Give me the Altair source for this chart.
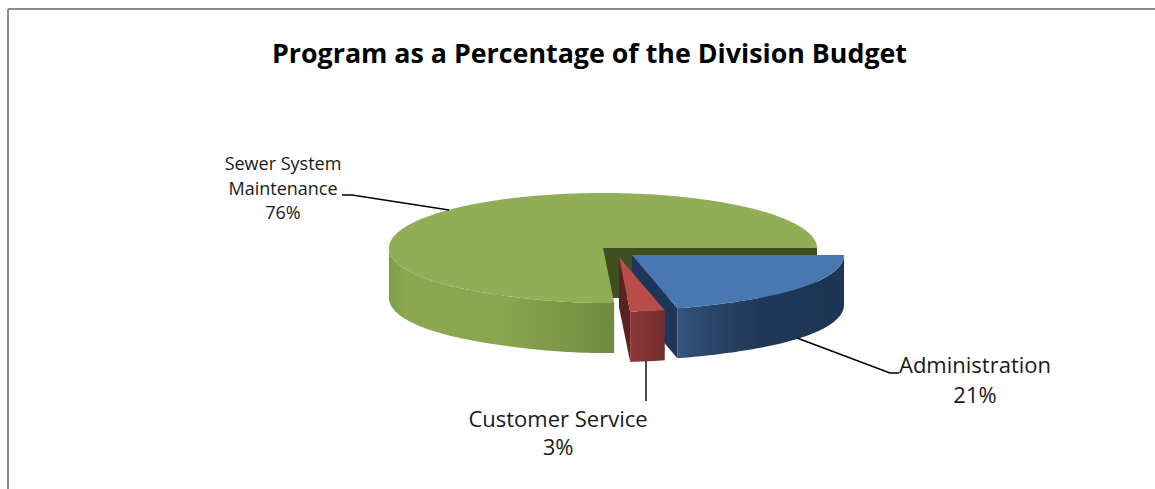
import math
import altair as alt
import pandas as pd

# Budget shares, in percent, clockwise from the three o'clock position
categories = ["Administration", "Customer Service", "Sewer System Maintenance"]
shares = [21, 3, 76]
label_lines = [["Administration"], ["Customer Service"], ["Sewer System", "Maintenance"]]

# Pie projection: centre, radii, wall depth and how far each slice is pulled out
CENTRE_X, CENTRE_Y = 603, 248
RADIUS_X = [212, 214, 214]
RADIUS_Y = 55
DEPTH = 50
PULL_X = [29, 16, 0]
PULL_Y = [7, 9, 0]
FORESHORTEN = 0.17

TOP_COLORS = ["#4877b2", "#b94d4a", "#8fae55"]
CUT_COLORS = ["#1d3659", "#5a2222", "#3f4f22"]
WALL_STOPS = [
    [("#35557f", 0), ("#2a4669", 0.2), ("#1f3757", 0.5), ("#1e3654", 1)],
    [("#8a3836", 0), ("#742e2d", 1)],
    [("#7f9c47", 0), ("#8ba851", 0.08), ("#89a64f", 0.5), ("#6f8a40", 1)],
]

W, H = 1155, 489
x_scale = alt.Scale(domain=[0, W], range=[0, W], nice=False, zero=False)
y_scale = alt.Scale(domain=[0, H], range=[0, H], nice=False, zero=False)


def rim(i, deg, drop=0):
    """Screen position of angle deg (clockwise from twelve o'clock) on slice i's rim."""
    t = math.radians(deg)
    front = max(0.0, -math.cos(t)) ** 6
    x = CENTRE_X + PULL_X[i] + RADIUS_X[i] * math.sin(t) * (1 - FORESHORTEN * front)
    y = CENTRE_Y + PULL_Y[i] - RADIUS_Y * math.cos(t) + drop
    return x, y


def apex(i, drop=0):
    return CENTRE_X + PULL_X[i], CENTRE_Y + PULL_Y[i] + drop


def sweep(start, end):
    n = max(2, int(abs(end - start)))
    return [start + (end - start) * k / n for k in range(n + 1)]


def polygon(points, color):
    frame = pd.DataFrame(
        [{"px": p[0], "py": p[1], "seq": k} for k, p in enumerate(points + points[:1])]
    )
    return (
        alt.Chart(frame)
        .mark_line(filled=True, color=color, strokeWidth=0, interpolate="linear")
        .encode(
            x=alt.X("px:Q", scale=x_scale, axis=None),
            y=alt.Y("py:Q", scale=y_scale, axis=None),
            order="seq:Q",
        )
    )


def wall_gradient(stops):
    return alt.Gradient(
        gradient="linear",
        stops=[alt.GradientStop(color=c, offset=o) for c, o in stops],
        x1=0, x2=1, y1=0, y2=0,
    )


def segment(points, width=1.4):
    frame = pd.DataFrame([{"px": p[0], "py": p[1], "seq": k} for k, p in enumerate(points)])
    return (
        alt.Chart(frame)
        .mark_line(color="#000000", strokeWidth=width)
        .encode(
            x=alt.X("px:Q", scale=x_scale, axis=None),
            y=alt.Y("py:Q", scale=y_scale, axis=None),
            order="seq:Q",
        )
    )


def text_block(lines, x, first_y, size, step):
    frame = pd.DataFrame(
        [{"px": x, "py": first_y + step * k, "label": s} for k, s in enumerate(lines)]
    )
    return (
        alt.Chart(frame)
        .mark_text(font="Open Sans", fontSize=size, color="#1a1a1a", align="center", baseline="middle")
        .encode(
            x=alt.X("px:Q", scale=x_scale, axis=None),
            y=alt.Y("py:Q", scale=y_scale, axis=None),
            text="label:N",
        )
    )


# Slice angles follow from the shares, starting at three o'clock
starts, ends = [], []
angle = 90.0
for share in shares:
    starts.append(angle)
    angle += share * 3.6
    ends.append(angle)

ADMIN, SERVICE, SEWER = 0, 1, 2
layers = []

# Chart frame
frame_lines = pd.DataFrame({"x0": [8, 8], "x1": [W, 8], "y0": [9, 9], "y1": [9, H]})
layers.append(
    alt.Chart(frame_lines)
    .mark_rule(color="#8c8c8c", strokeWidth=2)
    .encode(
        x=alt.X("x0:Q", scale=x_scale, axis=None),
        x2="x1:Q",
        y=alt.Y("y0:Q", scale=y_scale, axis=None),
        y2="y1:Q",
    )
)

# Sewer slice: front wall, inner cut face along three o'clock, then the top surface over them
front = sweep(starts[SEWER], 270)
layers.append(
    polygon(
        [rim(SEWER, d) for d in front] + [rim(SEWER, d, DEPTH) for d in reversed(front)],
        wall_gradient(WALL_STOPS[SEWER]),
    )
)
layers.append(
    polygon(
        [apex(SEWER), rim(SEWER, ends[SEWER]), rim(SEWER, ends[SEWER], DEPTH), apex(SEWER, DEPTH)],
        CUT_COLORS[SEWER],
    )
)
layers.append(
    polygon(
        [apex(SEWER)] + [rim(SEWER, d) for d in sweep(starts[SEWER], ends[SEWER])],
        TOP_COLORS[SEWER],
    )
)

# Administration slice
arc = sweep(starts[ADMIN], ends[ADMIN])
layers.append(
    polygon(
        [apex(ADMIN), rim(ADMIN, ends[ADMIN]), rim(ADMIN, ends[ADMIN], DEPTH), apex(ADMIN, DEPTH)],
        CUT_COLORS[ADMIN],
    )
)
layers.append(
    polygon(
        [rim(ADMIN, d) for d in arc] + [rim(ADMIN, d, DEPTH) for d in reversed(arc)],
        wall_gradient(WALL_STOPS[ADMIN]),
    )
)
layers.append(polygon([apex(ADMIN)] + [rim(ADMIN, d) for d in arc], TOP_COLORS[ADMIN]))

# Customer Service slice
arc = sweep(starts[SERVICE], ends[SERVICE])
layers.append(
    polygon(
        [apex(SERVICE), rim(SERVICE, ends[SERVICE]), rim(SERVICE, ends[SERVICE], DEPTH), apex(SERVICE, DEPTH)],
        CUT_COLORS[SERVICE],
    )
)
layers.append(
    polygon(
        [rim(SERVICE, d) for d in arc] + [rim(SERVICE, d, DEPTH) for d in reversed(arc)],
        wall_gradient(WALL_STOPS[SERVICE]),
    )
)
layers.append(polygon([apex(SERVICE)] + [rim(SERVICE, d) for d in arc], TOP_COLORS[SERVICE]))

# Leader lines
layers.append(segment([(342, 195), (352, 195), (449, 210)]))
layers.append(segment([(797, 338), (890, 373), (899, 373)]))
layers.append(segment([(646, 361), (646, 401)]))

# Data labels
layers.append(text_block(label_lines[SEWER] + [f"{shares[SEWER]}%"], 283, 165, 18, 24.5))
layers.append(text_block(label_lines[ADMIN] + [f"{shares[ADMIN]}%"], 975, 366, 22, 30))
layers.append(text_block(label_lines[SERVICE] + [f"{shares[SERVICE]}%"], 558, 420, 22, 28))

chart = (
    alt.layer(*layers)
    .properties(
        width=W,
        height=H,
        padding=0,
        autosize=alt.AutoSizeParams(type="none"),
        background="#ffffff",
        title=alt.TitleParams(
            "Program as a Percentage of the Division Budget",
            font="Open Sans",
            fontSize=26.8,
            fontWeight="bold",
            color="#000000",
            anchor="start",
            dx=272,
            dy=89.8,
            offset=0,
            baseline="alphabetic",
        ),
    )
    .configure_view(stroke=None)
)

chart.save("out.html", embed_options={"renderer": "svg", "actions": False})
